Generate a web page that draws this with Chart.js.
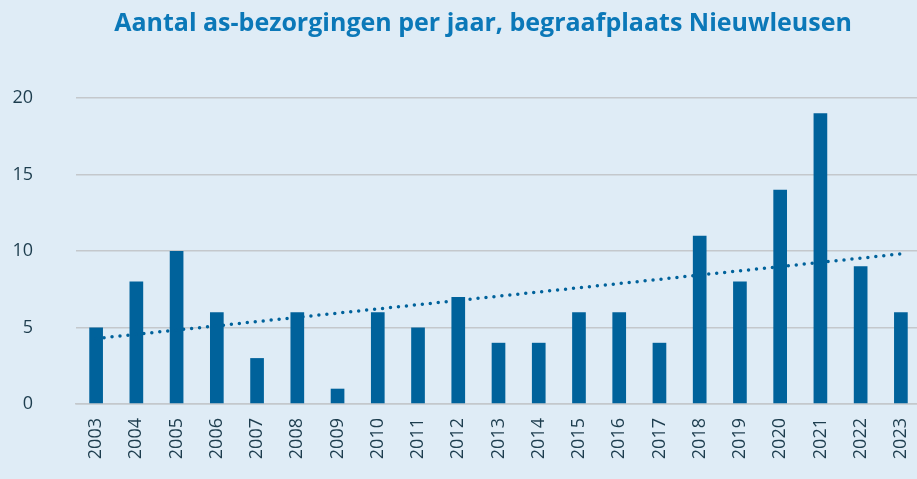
<!DOCTYPE html>
<html>
<head>
<meta charset="utf-8">
<script src="https://cdn.jsdelivr.net/npm/chart.js@4"></script>
<style>
  html, body { margin: 0; padding: 0; background: #dfecf6; overflow: hidden; }
  #wrap { width: 966px; height: 500px; }
</style>
</head>
<body>
<div id="wrap"><canvas id="chart"></canvas></div>
<script>
var years = ['2003','2004','2005','2006','2007','2008','2009','2010','2011','2012','2013',
  '2014','2015','2016','2017','2018','2019','2020','2021','2022','2023'];
var counts = [5, 8, 10, 6, 3, 6, 1, 6, 5, 7, 4, 4, 6, 6, 4, 11, 8, 14, 19, 9, 6];
// trendline: value at first and last year
var trendEnds = [4.28, 9.81];
var yTicks = [0, 5, 10, 15, 20];

var trend = years.map(function (y, i) {
  if (i == 0) return trendEnds[0];
  if (i == years.length - 1) return trendEnds[1];
  return null;
});

var barBlue = '#00629b';
var tickColor = '#1d3d4e';

new Chart(document.getElementById('chart'), {
  type: 'bar',
  data: {
    labels: years,
    datasets: [
      {
        type: 'line',
        data: trend,
        spanGaps: true,
        borderColor: barBlue,
        borderWidth: 3.5,
        borderDash: [0, 8],
        borderCapStyle: 'round',
        pointRadius: 0,
        order: 0
      },
      {
        data: counts,
        backgroundColor: barBlue,
        categoryPercentage: 1,
        barPercentage: 0.34,
        order: 1
      }
    ]
  },
  options: {
    responsive: true,
    maintainAspectRatio: false,
    animation: false,
    layout: { padding: 0 },
    plugins: {
      legend: { display: false },
      tooltip: { enabled: false },
      title: {
        display: true,
        text: 'Aantal as-bezorgingen per jaar, begraafplaats Nieuwleusen',
        color: '#0b78b8',
        font: { family: 'Open Sans', size: 25, weight: 'bold' },
        padding: { top: 9, bottom: 59 }
      }
    },
    scales: {
      x: {
        grid: { display: false },
        border: { display: true, color: '#c4c8cc', width: 1.5 },
        ticks: {
          color: tickColor,
          font: { family: 'Open Sans', size: 18 },
          minRotation: 90,
          maxRotation: 90,
          padding: 6
        },
        afterFit: function (axis) { axis.height = 96; }
      },
      y: {
        min: 0,
        max: 20,
        afterBuildTicks: function (axis) {
          axis.ticks = yTicks.map(function (v) { return { value: v }; });
        },
        grid: { color: '#c4c8cc', lineWidth: 1.5, drawTicks: false },
        border: { display: false },
        ticks: {
          color: tickColor,
          font: { family: 'Open Sans', size: 18 },
          padding: 43
        },
        afterFit: function (axis) { axis.width = 76; }
      },
      // empty right-hand axis: only reserves the space cut off by the window
      yRight: {
        position: 'right',
        min: 0,
        max: 20,
        grid: { display: false },
        border: { display: false },
        ticks: { display: false },
        afterFit: function (axis) { axis.width = 45; }
      }
    }
  }
});
</script>
</body>
</html>
